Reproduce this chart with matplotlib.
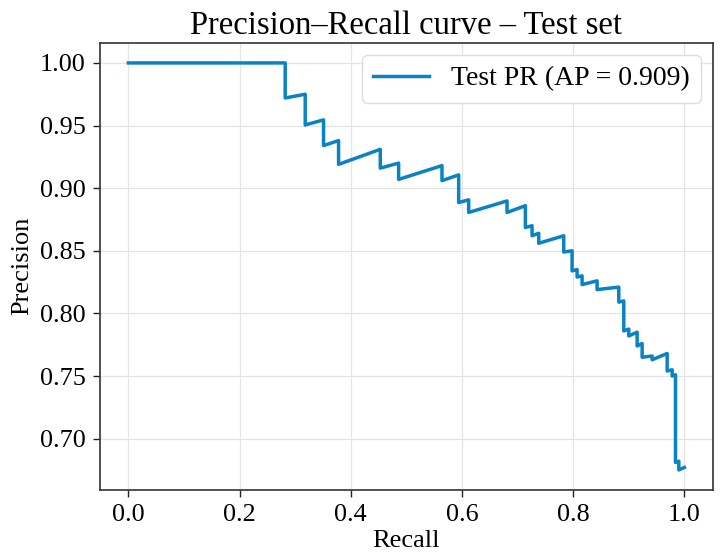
import matplotlib
matplotlib.use("Agg")
import matplotlib.pyplot as plt

recall = [0.0, 0.282, 0.282, 0.318, 0.318, 0.351, 0.351, 0.378, 0.378,
          0.453, 0.453, 0.486, 0.486, 0.564, 0.564, 0.594, 0.594, 0.612, 0.612,
          0.681, 0.681, 0.714, 0.714, 0.726, 0.726, 0.738, 0.738, 0.783, 0.783,
          0.798, 0.798, 0.807, 0.807, 0.816, 0.816, 0.843, 0.843, 0.882, 0.882,
          0.891, 0.891, 0.900, 0.900, 0.915, 0.915, 0.924, 0.924, 0.942, 0.942,
          0.969, 0.969, 0.978, 0.978, 0.984, 0.984, 0.990, 0.990, 1.0]
precision = [1.0, 1.0, 0.972, 0.975, 0.9505, 0.9545, 0.934, 0.938, 0.919,
             0.931, 0.916, 0.920, 0.907, 0.918, 0.906, 0.9106, 0.8885, 0.8907, 0.8806,
             0.8898, 0.8806, 0.886, 0.8686, 0.870, 0.862, 0.864, 0.856, 0.862, 0.849,
             0.850, 0.834, 0.835, 0.829, 0.830, 0.823, 0.826, 0.819, 0.821, 0.809,
             0.810, 0.786, 0.7875, 0.782, 0.785, 0.774, 0.776, 0.765, 0.766, 0.763,
             0.768, 0.754, 0.755, 0.750, 0.751, 0.681, 0.682, 0.675, 0.677]
ap_value = 0.909
title = "Precision\u2013Recall curve \u2013 Test set"

plt.rcParams['font.family'] = ['Liberation Serif', 'DejaVu Serif']

fig = plt.figure(figsize=(7.26, 5.56), dpi=100)
ax = fig.add_axes([99.5/726, 1 - 490/556, (713.3 - 99.5)/726, (490 - 42.5)/556])
ax.plot(recall, precision, color='#0a82c4', lw=2.5,
        label=f"Test PR (AP = {ap_value:.3f})")
ax.set_xlim(-0.052, 1.052)
ax.set_ylim(0.659, 1.0163)
ax.set_xticks([0.0, 0.2, 0.4, 0.6, 0.8, 1.0])
ax.set_yticks([0.70, 0.75, 0.80, 0.85, 0.90, 0.95, 1.00])
ax.set_yticklabels([f"{v:.2f}" for v in [0.70, 0.75, 0.80, 0.85, 0.90, 0.95, 1.00]])
ax.tick_params(labelsize=18.8, length=5, width=1.0, pad=5, colors='#222222', labelcolor='black')
ax.grid(True, color='#e4e4e4', lw=0.9)
ax.set_axisbelow(True)
for s in ax.spines.values():
    s.set_color('#333333')
    s.set_linewidth(1.2)
ax.set_xlabel("Recall", fontsize=19, labelpad=3)
ax.set_ylabel("Precision", fontsize=19, labelpad=5)
ax.set_title(title, fontsize=23.5, pad=6)
ax.legend(loc='upper right', fontsize=20, framealpha=1.0, edgecolor='#dddddd',
          fancybox=True, handlelength=2.0, borderaxespad=0.45)
fig.savefig("out.png", dpi=100)
